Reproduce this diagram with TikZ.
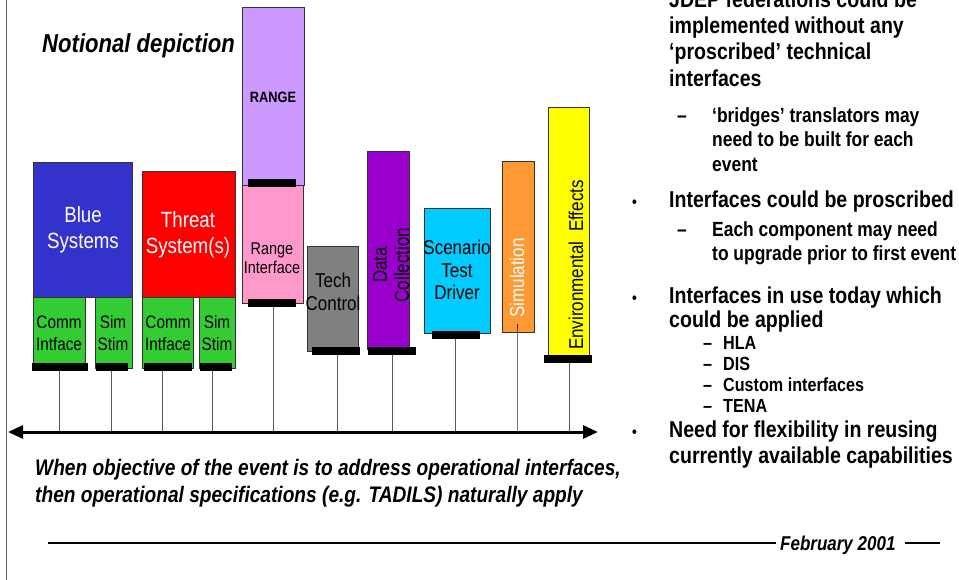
\documentclass[tikz,border=0pt]{standalone}
\usepackage{fontspec}
\setmainfont[FakeStretch=0.85]{Liberation Sans}
\usetikzlibrary{arrows.meta,shadows}

\definecolor{cblue}{HTML}{3333CC}
\definecolor{cred}{HTML}{FF0000}
\definecolor{cgreen}{HTML}{33CC33}
\definecolor{cpink}{HTML}{FF99CC}
\definecolor{clav}{HTML}{CC99FF}
\definecolor{cgray}{HTML}{808080}
\definecolor{cpurple}{HTML}{9900CC}
\definecolor{ccyan}{HTML}{00CCFF}
\definecolor{corange}{HTML}{FF9933}
\definecolor{cyellow}{HTML}{FFFF00}

\newcommand\fsz[2]{\fontsize{#1}{#2}\selectfont}

\tikzset{
  blk/.style={draw=black!80, line width=0.6pt, inner sep=0pt, anchor=north west,
    drop shadow={shadow xshift=1pt, shadow yshift=-1pt, fill=black!45, opacity=1}},
  bar/.style={fill=black, inner sep=0pt, minimum height=8pt, anchor=north west},
  tick/.style={draw=black!65, line width=0.8pt},
  lbl/.style={inner sep=0pt, align=center},
  txt/.style={inner sep=0pt, anchor=base west},
  mainpt/.style={txt, font=\fsz{23}{26}\bfseries},
  subpt/.style={txt, font=\fsz{20.5}{24}\bfseries},
  listpt/.style={txt, font=\fsz{19}{22}\bfseries},
  bul/.style={txt, font=\fsz{16}{18}\bfseries},
  note/.style={txt, font=\fsz{22.5}{26}\bfseries\itshape},
  rule/.style={line width=2.5pt},
}

\begin{document}
\begin{tikzpicture}[x=1pt,y=-1pt]
\useasboundingbox (0,0) rectangle (959,580);
\clip (0,0) rectangle (959,580);

% left frame line
\coordinate (ftop) at (6.5,0);
\coordinate (fbot) at (6.5,580);
\draw[black!60, line width=1pt] (ftop) -- (fbot);

% title
\node[txt, font=\fsz{26}{30}\bfseries\itshape] (title) at (42,53) {Notional depiction};

% component blocks
\node[blk, fill=clav,    minimum width=62pt, minimum height=178pt] (range)  at (242,7)   {};
\node[blk, fill=cpink,   minimum width=61pt, minimum height=118pt] (rif)    at (242,185) {};
\node[blk, fill=cblue,   minimum width=99pt, minimum height=135pt] (blue)   at (33,162)  {};
\node[blk, fill=cred,    minimum width=93pt, minimum height=126pt] (threat) at (142,171) {};
\node[blk, fill=cgreen,  minimum width=52pt, minimum height=71pt]  (comm1)  at (33,297)  {};
\node[blk, fill=cgreen,  minimum width=37pt, minimum height=71pt]  (sim1)   at (95,297)  {};
\node[blk, fill=cgreen,  minimum width=51pt, minimum height=71pt]  (comm2)  at (142,297) {};
\node[blk, fill=cgreen,  minimum width=36pt, minimum height=71pt]  (sim2)   at (199,297) {};
\node[blk, fill=cgray,   minimum width=51pt, minimum height=105pt] (tech)   at (307,246) {};
\node[blk, fill=cpurple, minimum width=42pt, minimum height=198pt] (data)   at (367,151) {};
\node[blk, fill=ccyan,   minimum width=66pt, minimum height=125pt] (scen)   at (424,208) {};
\node[blk, fill=corange, minimum width=32pt, minimum height=171pt] (simu)   at (502,161) {};
\node[blk, fill=cyellow, minimum width=41pt, minimum height=248pt] (env)    at (548,107) {};

% block labels
\node[lbl, font=\fsz{15}{17}\bfseries] (rangelbl) at (273,97) {RANGE};
\node[lbl, font=\fsz{17}{19}] (riflbl) at (272,258) {Range\\Interface};
\node[lbl, font=\fsz{22}{26}, text=white] (bluelbl) at (83,230) {Blue\\Systems};
\node[lbl, font=\fsz{22}{26}, text=white] (threatlbl) at (188,235) {Threat\\System(s)};
\node[lbl, font=\fsz{18}{22}] (comm1lbl) at (59,333) {Comm\\Intface};
\node[lbl, font=\fsz{18}{22}] (sim1lbl) at (113,333) {Sim\\Stim};
\node[lbl, font=\fsz{18}{22}] (comm2lbl) at (168,333) {Comm\\Intface};
\node[lbl, font=\fsz{18}{22}] (sim2lbl) at (217,333) {Sim\\Stim};
\node[lbl, font=\fsz{20}{23}] (techlbl) at (333,292) {Tech\\Control};
\node[lbl, font=\fsz{20}{22}, rotate=90] (datalbl) at (391,265) {Data\\Collection};
\node[lbl, font=\fsz{20}{22.5}] (scenlbl) at (457,270) {Scenario\\Test\\Driver};
\node[lbl, font=\fsz{20}{22}, rotate=90, text=white] (simulbl) at (517,278) {Simulation};
\node[lbl, font=\fsz{20}{22}, rotate=90] (envlbl) at (576,265) {Environmental\ \ Effects};

% interface bars
\node[bar, minimum width=48pt] (rangebar) at (248,179) {};
\node[bar, minimum width=48pt] (rifbar)   at (248,299) {};
\node[bar, minimum width=56pt] (c1bar)    at (32,363)  {};
\node[bar, minimum width=32pt] (s1bar)    at (96,363)  {};
\node[bar, minimum width=48pt] (c2bar)    at (144,363) {};
\node[bar, minimum width=32pt] (s2bar)    at (200,363) {};
\node[bar, minimum width=48pt] (techbar)  at (312,347) {};
\node[bar, minimum width=48pt] (databar)  at (368,347) {};
\node[bar, minimum width=48pt] (scenbar)  at (432,331) {};
\node[bar, minimum width=48pt] (envbar)   at (544,355) {};

% backbone
\coordinate (axl) at (8,432);
\coordinate (axr) at (598,432);
\coordinate (ax1) at (59,432);
\coordinate (ax2) at (111,432);
\coordinate (ax3) at (162,432);
\coordinate (ax4) at (212,432);
\coordinate (ax5) at (273,432);
\coordinate (ax6) at (337,432);
\coordinate (ax7) at (392,432);
\coordinate (ax8) at (455,432);
\coordinate (ax9) at (517,432);
\coordinate (ax10) at (569,432);

\draw[tick] (ax1) -- (ax1 |- c1bar.south);
\draw[tick] (ax2) -- (ax2 |- s1bar.south);
\draw[tick] (ax3) -- (ax3 |- c2bar.south);
\draw[tick] (ax4) -- (ax4 |- s2bar.south);
\draw[tick] (ax5) -- (ax5 |- rifbar.south);
\draw[tick] (ax6) -- (ax6 |- techbar.south);
\draw[tick] (ax7) -- (ax7 |- databar.south);
\draw[tick] (ax8) -- (ax8 |- scenbar.south);
\draw[tick, draw=black!85] (ax9) -- (ax9 |- simu.south) -- ++(0,-9);
\draw[tick] (ax10) -- (ax10 |- envbar.south);

\draw[line width=3pt, {Triangle[length=15pt,width=13pt]}-{Triangle[length=15pt,width=13pt]}] (axl) -- (axr);

% note under the backbone
\node[note] (note1) at (35,475) {When objective of the event is to address operational interfaces,};
\node[note] (note2) at (35,502) {then operational specifications (e.g. TADILS) naturally apply};

% footer
\coordinate (r1) at (48,543);
\coordinate (r2) at (776,543);
\coordinate (r3) at (905,543);
\coordinate (r4) at (940,543);
\draw[rule] (r1) -- (r2);
\draw[rule] (r3) -- (r4);
\node[txt, font=\fsz{20}{22}\bfseries\itshape] (date) at (780,550) {February 2001};

% bullet list
\node[mainpt] (b1a) at (669,8)  {JDEP federations could be};
\node[mainpt] (b1b) at (669,34) {implemented without any};
\node[mainpt] (b1c) at (669,60) {‘proscribed’ technical};
\node[mainpt] (b1d) at (669,87) {interfaces};
\node[subpt] (d1) at (677,123) {–};
\node[subpt] (s1a) at (712,123) {‘bridges’ translators may};
\node[subpt] (s1b) at (712,147) {need to be built for each};
\node[subpt] (s1c) at (712,172) {event};

\node[bul] (p2) at (632,208) {•};
\node[mainpt] (b2) at (669,208) {Interfaces could be proscribed};
\node[subpt] (d2) at (677,237) {–};
\node[subpt] (s2a) at (712,237) {Each component may need};
\node[subpt] (s2b) at (712,261) {to upgrade prior to first event};

\node[bul] (p3) at (632,303) {•};
\node[mainpt] (b3a) at (669,303) {Interfaces in use today which};
\node[mainpt] (b3b) at (669,327) {could be applied};
\node[listpt] (d3) at (703,349) {–};
\node[listpt] (s3a) at (723,349) {HLA};
\node[listpt] (d4) at (703,370) {–};
\node[listpt] (s3b) at (723,370) {DIS};
\node[listpt] (d5) at (703,391) {–};
\node[listpt] (s3c) at (723,391) {Custom interfaces};
\node[listpt] (d6) at (703,412) {–};
\node[listpt] (s3d) at (723,412) {TENA};

\node[bul] (p4) at (632,437) {•};
\node[mainpt] (b4a) at (669,437) {Need for flexibility in reusing};
\node[mainpt] (b4b) at (669,463) {currently available capabilities};
\end{tikzpicture}
\end{document}
